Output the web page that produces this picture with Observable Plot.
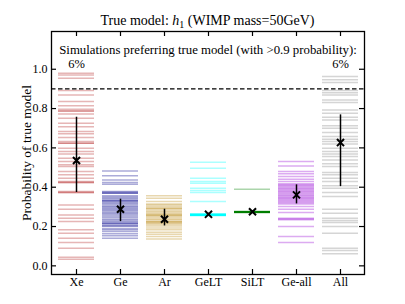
<!DOCTYPE html>
<html><head><meta charset="utf-8">
<script src="https://cdn.jsdelivr.net/npm/d3@7"></script>
<script src="https://cdn.jsdelivr.net/npm/@observablehq/plot@0.6"></script>
<style>
body{margin:0;background:#fff;}
#wrap{position:relative;width:405px;height:304px;font-family:"Liberation Serif","DejaVu Serif",serif;}
#title{position:absolute;left:51px;width:313px;top:13px;text-align:center;font-size:14px;line-height:16px;color:#000;z-index:2;}
#title .sub{font-size:10px;position:relative;top:3px;}
</style></head><body>
<div id="wrap"><div id="title">True model: <i>h</i><span class="sub">1</span> (WIMP mass=50GeV)</div></div>
<script>
// ---- data ----
const cats = ["Xe", "Ge", "Ar", "GeLT", "SiLT", "Ge-all", "All"];
const colors = ["#b22222", "#00008b", "#b8860b", "#00ffff", "#008000", "#9400d3", "#808080"];

const xeVals = [0.98, 0.971, 0.954, 0.892, 0.869, 0.836, 0.814, 0.797, 0.788, 0.788, 0.773, 0.751, 0.725, 0.708,
  0.683, 0.672, 0.653, 0.632, 0.624, 0.624, 0.598, 0.581, 0.569, 0.547, 0.531, 0.514, 0.505, 0.48, 0.463, 0.446,
  0.429, 0.424, 0.424, 0.378, 0.373, 0.373, 0.31, 0.288, 0.259, 0.242, 0.225, 0.183, 0.166, 0.141, 0.119, 0.09,
  0.044, 0.034];
const geVals = [0.483, 0.458, 0.437, 0.424, 0.415, 0.378, 0.374, 0.369, 0.369, 0.356, 0.35, 0.344, 0.337, 0.331,
  0.331, 0.325, 0.319, 0.312, 0.305, 0.299, 0.293, 0.287, 0.281, 0.274, 0.268, 0.261, 0.254, 0.246, 0.237, 0.231,
  0.224, 0.217, 0.217, 0.21, 0.203, 0.203, 0.19, 0.183, 0.175, 0.163, 0.153, 0.141];
const arVals = [0.356, 0.344, 0.327, 0.315, 0.309, 0.302, 0.293, 0.293, 0.285, 0.278, 0.271, 0.265, 0.259, 0.259,
  0.253, 0.247, 0.24, 0.234, 0.225, 0.225, 0.221, 0.217, 0.21, 0.203, 0.192, 0.183, 0.171, 0.161, 0.149, 0.137];
const geltVals = [0.527, 0.497, 0.446, 0.429, 0.42, 0.395, 0.383, 0.373, 0.327,
  0.256, 0.257, 0.257, 0.258, 0.258, 0.259, 0.259, 0.259, 0.26, 0.26, 0.26, 0.261, 0.261, 0.262, 0.262,
  0.257, 0.258, 0.259, 0.26, 0.261, 0.26, 0.259, 0.258, 0.262, 0.263, 0.256];
const siltVals = [0.39,
  0.271, 0.272, 0.272, 0.273, 0.273, 0.273, 0.274, 0.274, 0.275, 0.275, 0.276, 0.272, 0.273, 0.274,
  0.271, 0.272, 0.273, 0.274, 0.275, 0.276, 0.273, 0.274, 0.272, 0.275, 0.273];
const geAllVals = [0.531, 0.508, 0.48, 0.468, 0.454, 0.441, 0.429, 0.417, 0.412, 0.407, 0.401, 0.395, 0.389,
  0.383, 0.378, 0.373, 0.367, 0.361, 0.355, 0.349, 0.344, 0.339, 0.333, 0.327, 0.321, 0.315, 0.302, 0.288, 0.271,
  0.242, 0.238, 0.234, 0.2, 0.149, 0.119];
const allVals = [0.963, 0.946, 0.932, 0.892, 0.881, 0.869, 0.844, 0.831, 0.793, 0.776, 0.756, 0.742, 0.712, 0.7,
  0.678, 0.658, 0.644, 0.632, 0.62, 0.598, 0.581, 0.569, 0.556, 0.539, 0.519, 0.505, 0.475, 0.463, 0.446, 0.429,
  0.407, 0.395, 0.373, 0.353, 0.288, 0.268, 0.242, 0.231, 0.22, 0.2, 0.166, 0.09, 0.078, 0.061];

const meanVals = [0.536, 0.288, 0.237, 0.262, 0.275, 0.361, 0.627];
const errLo = [0.373, 0.225, 0.203, 0.256, 0.271, 0.315, 0.403];
const errHi = [0.756, 0.339, 0.288, 0.268, 0.279, 0.412, 0.768];

const yTicks = [0.0, 0.2, 0.4, 0.6, 0.8, 1.0];
const threshold = 0.9;
const annotation = "Simulations preferring true model (with >0.9 probability):";
const pctCats = ["Xe", "All"];
const pctText = ["6%", "6%"];
const yLabel = "Probability of true model";

// ---- tables ----
const valueLists = [xeVals, geVals, arVals, geltVals, siltVals, geAllVals, allVals];
const sims = valueLists.flatMap((vals, i) => vals.map(v => ({cat: cats[i], v})));
const meanTable = cats.map((c, i) => ({cat: c, mean: meanVals[i], lo: errLo[i], hi: errHi[i]}));
const pctTable = pctCats.map((c, i) => ({cat: c, label: pctText[i]}));

const W = 405, H = 304, mL = 51, mR = 41, mT = 31, mB = 30;
const fw = W - mL - mR, fh = H - mT - mB;

const chart = Plot.plot({
  width: W, height: H,
  marginLeft: mL, marginRight: mR, marginTop: mT, marginBottom: mB,
  style: {fontFamily: "Liberation Serif, DejaVu Serif, serif", fontSize: "12px", background: "white", color: "black", overflow: "visible"},
  x: {type: "band", domain: cats, padding: 0},
  y: {domain: [-0.044, 1.192]},
  color: {domain: cats, range: colors},
  marks: [
    Plot.tickY(sims, {x: "cat", y: "v", stroke: "cat", strokeOpacity: 0.33, strokeWidth: 1.5, inset: 4}),
    Plot.ruleY([threshold], {stroke: "black", strokeWidth: 1.3, strokeDasharray: "4.5,2.5"}),
    Plot.ruleX(meanTable, {x: "cat", y1: "lo", y2: "hi", stroke: "black", strokeWidth: 1.5}),
    Plot.dot(meanTable, {x: "cat", y: "mean", symbol: "times", r: 3.3, stroke: "black", strokeWidth: 2}),
    Plot.axisX({tickSize: 0, tickPadding: 3, label: null, fontSize: 12}),
    Plot.axisY(yTicks, {tickSize: 0, tickPadding: 4, tickFormat: d3.format(".1f"), label: null, fontSize: 12}),
    Plot.ruleY(yTicks, {y: d => d, insetRight: fw - 5, stroke: "black", strokeWidth: 1.2}),
    Plot.ruleY(yTicks, {y: d => d, insetLeft: fw - 5, stroke: "black", strokeWidth: 1.2}),
    Plot.ruleX(cats, {x: d => d, insetTop: fh - 5, stroke: "black", strokeWidth: 1.2}),
    Plot.ruleX(cats, {x: d => d, insetBottom: fh - 5, stroke: "black", strokeWidth: 1.2}),
    Plot.frame({stroke: "black", strokeWidth: 1.3}),
    Plot.text([annotation], {frameAnchor: "top", dy: 13.5, fontSize: 12.8, fill: "black"}),
    Plot.text(pctTable, {x: "cat", text: "label", frameAnchor: "top", dy: 27.5, fontSize: 12.5, fill: "black"}),
    Plot.text([yLabel], {frameAnchor: "left", textAnchor: "middle", rotate: -90, dx: -25, fontSize: 13.5, fill: "black"})
  ]
});
document.getElementById("wrap").appendChild(chart);
chart.style.position = "absolute";
chart.style.left = "0px";
chart.style.top = "0px";
</script>
</body></html>
